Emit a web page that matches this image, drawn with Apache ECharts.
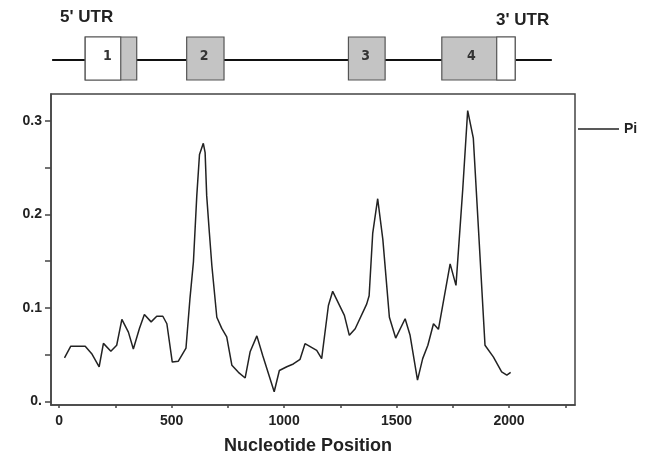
<!DOCTYPE html>
<html>
<head>
<meta charset="utf-8">
<script src="https://cdn.jsdelivr.net/npm/echarts@6/dist/echarts.min.js"></script>
<style>
  html, body { margin: 0; padding: 0; background: #fff; }
  #main { width: 646px; height: 460px; }
</style>
</head>
<body>
<div id="main"></div>
<script>
// nucleotide diversity (Pi) along the gene, [position, Pi]
var piPoints = [
  [24, 0.0465], [52, 0.059], [116, 0.059], [145, 0.051], [178, 0.037],
  [197, 0.062], [230, 0.0535], [256, 0.060], [279, 0.0876], [308, 0.074],
  [330, 0.056], [357, 0.078], [379, 0.093], [409, 0.085], [434, 0.091],
  [461, 0.091], [479, 0.083], [503, 0.042], [530, 0.043], [564, 0.057],
  [582, 0.111], [597, 0.149], [612, 0.22], [624, 0.264], [641, 0.276],
  [649, 0.266], [656, 0.22], [668, 0.18], [679, 0.145], [701, 0.09],
  [723, 0.078], [745, 0.069], [768, 0.0386], [797, 0.031], [827, 0.025],
  [849, 0.053], [879, 0.070], [905, 0.049], [956, 0.0103], [979, 0.033],
  [1012, 0.037], [1041, 0.040], [1071, 0.045], [1093, 0.0617], [1145, 0.0546],
  [1167, 0.0457], [1197, 0.1025], [1216, 0.1177], [1268, 0.092], [1290, 0.0706],
  [1316, 0.0777], [1367, 0.104], [1378, 0.113], [1394, 0.180], [1416, 0.2167],
  [1439, 0.173], [1468, 0.090], [1496, 0.0677], [1538, 0.0883], [1560, 0.0706],
  [1593, 0.0227], [1616, 0.0457], [1639, 0.060], [1664, 0.083], [1686, 0.077],
  [1738, 0.147], [1764, 0.124], [1794, 0.2266], [1816, 0.311], [1841, 0.2816],
  [1864, 0.184], [1893, 0.060], [1930, 0.0475], [1967, 0.0316], [1990, 0.028],
  [2007, 0.031]
];

// gene model (nucleotide coordinates)
var geneSpan = [-31, 2190];
var exonNames = ['1', '2', '3', '4'];
var exonStart = [116, 567, 1286, 1701];
var exonEnd = [345, 733, 1449, 2027];
var utrStart = [116, 1945];
var utrEnd = [274, 2027];
var exonLabelPos = [215, 645, 1362, 1832];

var xTicks = [0, 250, 500, 750, 1000, 1250, 1500, 1750, 2000, 2250];
var xLabels = [0, 500, 1000, 1500, 2000];
var yTicks = [0, 0.05, 0.1, 0.15, 0.2, 0.25, 0.3];
var yLabels = [0, 0.1, 0.2, 0.3];

var FONT = "'Liberation Sans', Arial, sans-serif";
var X_MIN = -36, X_MAX = 2293;

var chartDom = document.getElementById('main');
var myChart = echarts.init(chartDom);

var exonData = [];
for (var i = 0; i < exonNames.length; i++) {
    exonData.push([exonStart[i], exonEnd[i], exonLabelPos[i], exonNames[i]]);
}
var utrData = [];
for (var k = 0; k < utrStart.length; k++) {
    utrData.push([utrStart[k], utrEnd[k]]);
}

function rectBetween(api, x0, x1) {
    var p0 = api.coord([x0, 1]);
    var p1 = api.coord([x1, 0]);
    return { x: p0[0], y: p0[1], width: p1[0] - p0[0], height: p1[1] - p0[1] };
}

var option = {
    animation: false,
    backgroundColor: '#fff',
    legend: {
        data: ['Pi'],
        left: 578,
        top: 122,
        padding: 0,
        icon: 'rect',
        itemWidth: 41,
        itemHeight: 1.5,
        textStyle: { fontFamily: FONT, fontWeight: 'bold', fontSize: 14, color: '#222' }
    },
    graphic: [
        { type: 'text', left: 60, top: 9,
          style: { text: "5' UTR", font: 'bold 17px ' + FONT, fill: '#222' } },
        { type: 'text', left: 496, top: 12,
          style: { text: "3' UTR", font: 'bold 17px ' + FONT, fill: '#222' } }
    ],
    grid: [
        { left: 51, right: 71, top: 94, bottom: 53.3, show: true,
          borderColor: '#444', borderWidth: 1.5, backgroundColor: 'transparent' },
        { left: 51, right: 71, top: 37, height: 43 }
    ],
    xAxis: [
        {
            type: 'value', gridIndex: 0, min: X_MIN, max: X_MAX,
            name: 'Nucleotide Position', nameLocation: 'middle', nameGap: 32,
            nameTextStyle: { fontFamily: FONT, fontWeight: 'bold', fontSize: 18, color: '#222',
                             padding: [0, 10, 0, 0] },
            splitLine: { show: false },
            axisLine: { onZero: false, lineStyle: { color: '#444', width: 1.5 } },
            axisTick: { customValues: xTicks, length: 3, lineStyle: { color: '#444', width: 1.5 } },
            axisLabel: { customValues: xLabels, margin: 9, fontFamily: FONT, fontWeight: 'bold',
                         fontSize: 14, color: '#222',
                         formatter: function (v) { return String(v); } }
        },
        {
            type: 'value', gridIndex: 1, min: X_MIN, max: X_MAX, show: false
        }
    ],
    yAxis: [
        {
            type: 'value', gridIndex: 0, min: -0.0039, max: 0.3287,
            splitLine: { show: false },
            axisLine: { show: true, onZero: false, lineStyle: { color: '#444', width: 1.5 } },
            axisTick: { show: true, customValues: yTicks, length: 6, lineStyle: { color: '#444', width: 1.5 } },
            axisLabel: {
                customValues: yLabels, margin: 9, fontFamily: FONT, fontWeight: 'bold',
                fontSize: 14, color: '#222',
                formatter: function (v) { return v === 0 ? '0.' : v.toFixed(1); }
            }
        },
        {
            type: 'value', gridIndex: 1, min: 0, max: 1, show: false
        }
    ],
    series: [
        {
            name: 'Pi',
            type: 'line',
            xAxisIndex: 0, yAxisIndex: 0,
            showSymbol: false,
            lineStyle: { color: '#222', width: 1.5 },
            itemStyle: { color: '#222' },
            data: piPoints
        },
        {
            // gene backbone
            type: 'line',
            xAxisIndex: 1, yAxisIndex: 1,
            z: 1,
            showSymbol: false,
            lineStyle: { color: '#111', width: 2 },
            data: [[geneSpan[0], 0.465], [geneSpan[1], 0.465]]
        },
        {
            // exons, grey coding part
            type: 'custom',
            xAxisIndex: 1, yAxisIndex: 1,
            z: 3,
            data: exonData,
            renderItem: function (params, api) {
                var r = rectBetween(api, api.value(0), api.value(1));
                return { type: 'rect', shape: r,
                         style: { fill: '#c4c4c4', stroke: '#555', lineWidth: 1.2 } };
            }
        },
        {
            // UTR parts, white
            type: 'custom',
            xAxisIndex: 1, yAxisIndex: 1,
            z: 4,
            data: utrData,
            renderItem: function (params, api) {
                var r = rectBetween(api, api.value(0), api.value(1));
                return { type: 'rect', shape: r,
                         style: { fill: '#fff', stroke: '#555', lineWidth: 1.2 } };
            }
        },
        {
            // exon numbers
            type: 'custom',
            xAxisIndex: 1, yAxisIndex: 1,
            z: 5,
            data: exonData,
            renderItem: function (params, api) {
                var p = api.coord([api.value(2), 0.5]);
                return { type: 'text', x: p[0], y: p[1] - 2,
                         style: { text: String(api.value(3)), align: 'center', verticalAlign: 'middle',
                                  font: 'bold 14px "DejaVu Sans Condensed", ' + FONT, fill: '#333' } };
            }
        }
    ]
};

option && myChart.setOption(option);
</script>
</body>
</html>
